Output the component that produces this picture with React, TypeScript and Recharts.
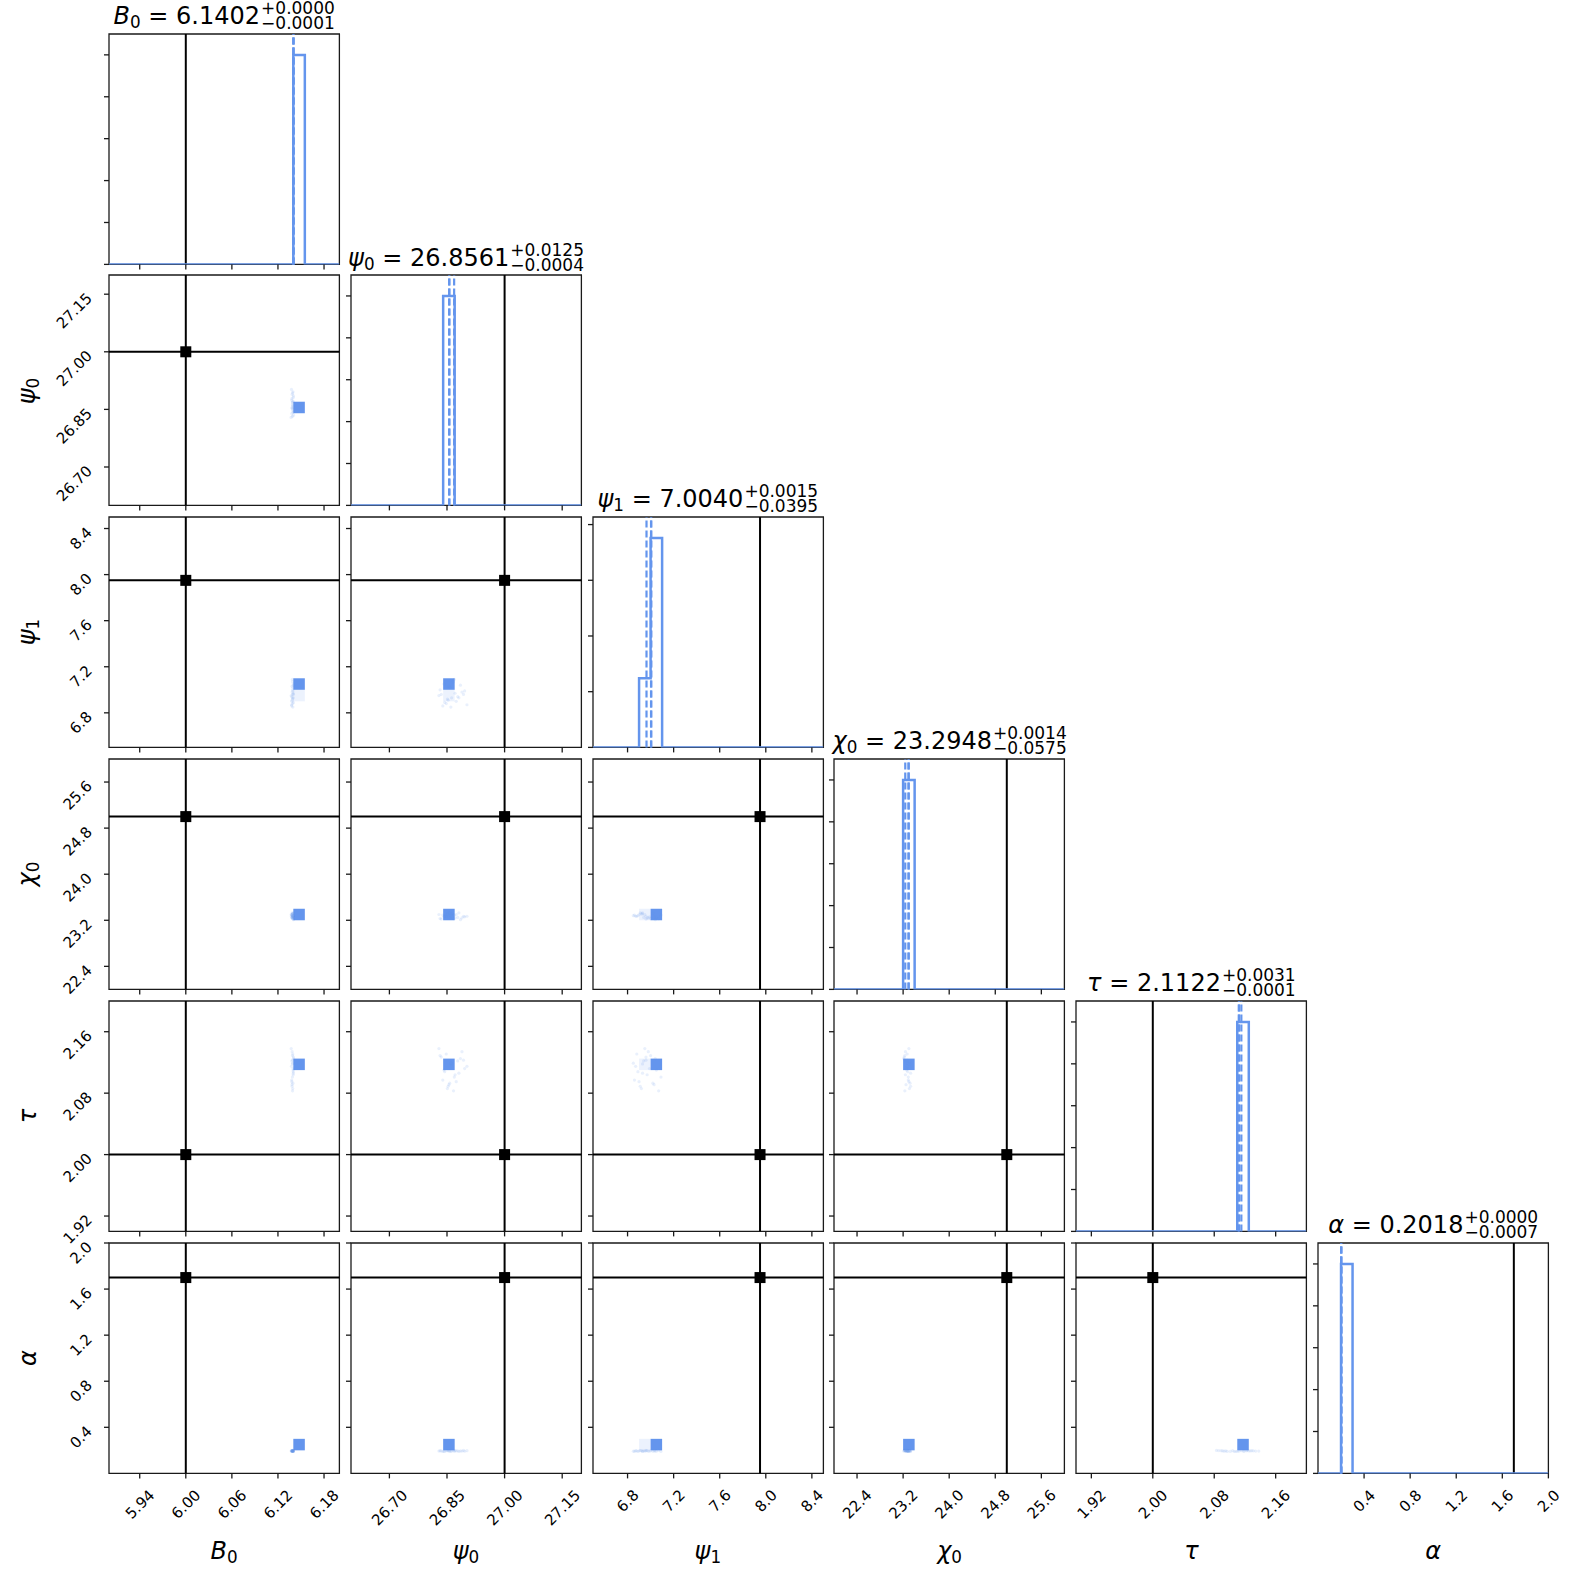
import React from 'react';
import { ComposedChart, XAxis, YAxis, Line, Scatter, ReferenceLine, ReferenceArea } from 'recharts';

const FONT = '"DejaVu Sans", Verdana, sans-serif';
const BLUE = '#6495ed';
const INK = '#1a1a1a';

// parameters: B0, psi0, psi1, chi0, tau, alpha
const symbols = ['B', 'ψ', 'ψ', 'χ', 'τ', 'α'];
const subscripts = ['0', '0', '1', '0', '', ''];
const ranges = [[5.9, 6.2], [26.6, 27.2], [6.5, 8.5], [22, 26], [1.9, 2.2], [0, 2]];
const axisTicks = [
  [5.94, 6.0, 6.06, 6.12, 6.18],
  [26.7, 26.85, 27.0, 27.15],
  [6.8, 7.2, 7.6, 8.0, 8.4],
  [22.4, 23.2, 24.0, 24.8, 25.6],
  [1.92, 2.0, 2.08, 2.16],
  [0.4, 0.8, 1.2, 1.6, 2.0],
];
const tickDecimals = [2, 2, 1, 1, 2, 1];
const truths = [6.0, 27.0, 7.95, 25.0, 2.0, 1.7];
const medians = [6.1402, 26.8561, 7.004, 23.2948, 2.1122, 0.2018];
const errUp = [0.0, 0.0125, 0.0015, 0.0014, 0.0031, 0.0];
const errDown = [0.0001, 0.0004, 0.0395, 0.0575, 0.0001, 0.0007];

// 1d histogram: non-empty bins (left edge, width, counts)
const binStarts = [[6.14], [26.84], [6.9, 7.0], [23.2], [2.11], [0.2]];
const binWidths = [0.015, 0.03, 0.1, 0.2, 0.015, 0.1];
const binCounts = [[4998], [5000], [1240, 3760], [5000], [5000], [5000]];
const countTicks = [0, 1000, 2000, 3000, 4000, 5000];

// a few stray samples (B0, psi0, psi1, chi0, tau, alpha) shown faintly
const tailSamples = [
  [6.1393, 26.848, 6.88, 23.27, 2.131, 0.196],
  [6.1387, 26.862, 6.93, 23.31, 2.118, 0.193],
  [6.1398, 26.871, 6.97, 23.24, 2.104, 0.198],
  [6.1379, 26.839, 6.86, 23.29, 2.097, 0.191],
  [6.1401, 26.885, 7.04, 23.21, 2.125, 0.195],
  [6.1384, 26.853, 6.91, 23.33, 2.089, 0.197],
  [6.1396, 26.896, 6.99, 23.26, 2.112, 0.192],
  [6.1372, 26.829, 6.95, 23.3, 2.138, 0.194],
  [6.139, 26.867, 7.07, 23.23, 2.083, 0.199],
  [6.1399, 26.844, 6.89, 23.28, 2.108, 0.19],
  [6.1381, 26.878, 6.94, 23.25, 2.122, 0.196],
  [6.1395, 26.857, 7.02, 23.32, 2.093, 0.193],
  [6.1376, 26.902, 6.87, 23.27, 2.115, 0.197],
  [6.1402, 26.835, 6.96, 23.22, 2.127, 0.195],
  [6.1388, 26.869, 7.09, 23.29, 2.101, 0.191],
  [6.1392, 26.851, 6.92, 23.31, 2.086, 0.198],
  [6.1385, 26.889, 6.98, 23.24, 2.134, 0.194],
  [6.1397, 26.842, 7.05, 23.26, 2.11, 0.192],
  [6.138, 26.874, 6.9, 23.3, 2.095, 0.196],
  [6.1394, 26.86, 6.85, 23.28, 2.119, 0.193],
  [6.1389, 26.832, 7.0, 23.23, 2.129, 0.197],
  [6.14, 26.881, 6.93, 23.33, 2.106, 0.19],
  [6.1383, 26.855, 7.03, 23.25, 2.091, 0.195],
  [6.1391, 26.893, 6.96, 23.27, 2.123, 0.199],
];

const N = symbols.length;
const SIZE = 230.4;
const PITCH = 241.8;
const X0 = 109;
const Y0 = 33.5;
const PAD_L = 72;
const PAD_B = 64;
const PAD_T = 6;
const PAD_R = 26;
const TICK_FS = 15;
const TITLE_FS = 24;

const charW: Record<string, number> = { '.': 0.318, '-': 0.838 };
const textLen = (s: string, fs: number) =>
  s.split('').reduce((a, ch) => a + (charW[ch] ?? 0.636), 0) * fs;

const makeXTick = (dec: number, show: boolean) => (p: any) => {
  if (!show) return <g />;
  const s = Number(p.payload.value).toFixed(dec);
  const cap = 0.729 * TICK_FS;
  const L = textLen(s, TICK_FS);
  const ax = p.x + 0.354 * cap;
  const ay = p.y + 10 + 0.707 * (L / 2 + cap);
  return (
    <text x={ax} y={ay} textAnchor="middle" transform={`rotate(-45 ${ax} ${ay})`}
      fontSize={TICK_FS} fontFamily={FONT} fill="#000">{s}</text>
  );
};

const makeYTick = (dec: number, show: boolean) => (p: any) => {
  if (!show) return <g />;
  const s = Number(p.payload.value).toFixed(dec);
  const ax = p.x - 11;
  const ay = p.y + 5;
  return (
    <text x={ax} y={ay} textAnchor="end" transform={`rotate(-45 ${ax} ${ay})`}
      fontSize={TICK_FS} fontFamily={FONT} fill="#000">{s}</text>
  );
};

const histLine = (k: number) => {
  const pts = [{ x: ranges[k][0], y: 0 }];
  binStarts[k].forEach((b, n) => pts.push({ x: b, y: binCounts[k][n] }));
  const last = binStarts[k][binStarts[k].length - 1] + binWidths[k];
  pts.push({ x: last, y: 0 }, { x: ranges[k][1], y: 0 });
  return pts;
};

const Sym = ({ k }: { k: number }) => (
  <>
    <span style={{ fontStyle: 'italic' }}>{symbols[k]}</span>
    {subscripts[k] ? (
      <span style={{ fontSize: '0.7em', position: 'relative', top: '0.25em' }}>{subscripts[k]}</span>
    ) : null}
  </>
);

const squareMarker = (p: any) => (
  <rect x={p.cx - 5.5} y={p.cy - 5.5} width={11} height={11} fill="#000" />
);
const faintDot = (p: any) => (
  <circle cx={p.cx} cy={p.cy} r={1.6} fill={BLUE} fillOpacity={0.14} />
);

function Panel({ r, c }: { r: number; c: number }) {
  const diag = r === c;
  const left = X0 + PITCH * c;
  const top = Y0 + PITCH * r;
  const xDom = ranges[c];
  const maxC = Math.max(...binCounts[c]);
  const maxR = Math.max(...binCounts[r]);
  const yDom = diag ? [0, maxC * 1.1] : ranges[r];
  const yTicks = diag ? countTicks.filter((t) => t <= maxC * 1.1) : axisTicks[r];

  const cells: { x1: number; x2: number; y1: number; y2: number; w: number }[] = [];
  if (!diag) {
    binStarts[c].forEach((bx, a) =>
      binStarts[r].forEach((by, b) => {
        cells.push({
          x1: bx,
          x2: bx + binWidths[c],
          y1: by,
          y2: by + binWidths[r],
          w: (binCounts[c][a] / maxC) * (binCounts[r][b] / maxR),
        });
      })
    );
  }
  const faint = tailSamples.map((s) => ({ x: s[c], y: s[r] }));
  const q = [medians[c] - errDown[c], medians[c], medians[c] + errUp[c]];

  return (
    <div style={{ position: 'absolute', left: left - PAD_L, top: top - PAD_T }}>
      <ComposedChart
        width={PAD_L + SIZE + PAD_R}
        height={PAD_T + SIZE + PAD_B}
        margin={{ top: PAD_T, right: PAD_R, bottom: PAD_B - 1, left: PAD_L - 1 }}
      >
        <XAxis type="number" dataKey="x" domain={xDom} ticks={axisTicks[c]} allowDataOverflow interval={0}
          height={1} tickSize={5} tickMargin={0} axisLine={false} stroke={INK}
          tickLine={{ stroke: INK, strokeWidth: 1.3 }} tick={makeXTick(tickDecimals[c], r === N - 1)} />
        <YAxis type="number" dataKey="y" domain={yDom} ticks={yTicks} allowDataOverflow interval={0}
          width={1} tickSize={5} tickMargin={0} axisLine={false} stroke={INK}
          tickLine={{ stroke: INK, strokeWidth: 1.3 }} tick={makeYTick(tickDecimals[r], !diag && c === 0)} />

        {cells.map((cell, n) => (
          <ReferenceArea key={`cell${n}`} x1={cell.x1} x2={cell.x2} y1={cell.y1} y2={cell.y2}
            fill={BLUE} fillOpacity={cell.w > 0.99 ? 1 : 0.12} stroke="none" />
        ))}
        {!diag && (
          <Scatter data={faint} dataKey="y" shape={faintDot} isAnimationActive={false} />
        )}

        <ReferenceLine x={truths[c]} stroke="#000" strokeWidth={2} />
        {!diag && <ReferenceLine y={truths[r]} stroke="#000" strokeWidth={2} />}
        {!diag && (
          <Scatter data={[{ x: truths[c], y: truths[r] }]} dataKey="y" shape={squareMarker}
            isAnimationActive={false} />
        )}

        {diag && (
          <Line data={histLine(c)} dataKey="y" type="stepAfter" stroke={BLUE} strokeWidth={2.5}
            dot={false} activeDot={false} isAnimationActive={false} />
        )}
        {diag &&
          q.map((v, n) => (
            <ReferenceLine key={`q${n}`} x={v} stroke={BLUE} strokeWidth={2.2} strokeDasharray="7 3" />
          ))}

        <ReferenceArea x1={xDom[0]} x2={xDom[1]} y1={yDom[0]} y2={yDom[1]}
          fill="none" stroke={INK} strokeWidth={1.3} />
      </ComposedChart>
    </div>
  );
}

function Title({ k }: { k: number }) {
  const cx = X0 + PITCH * k + SIZE / 2;
  const top = Y0 + PITCH * k;
  return (
    <div
      style={{
        position: 'absolute', left: cx, top: top - 32.8, transform: 'translateX(-50%)',
        whiteSpace: 'nowrap', fontFamily: FONT, fontSize: TITLE_FS, lineHeight: '24px', color: '#000',
      }}
    >
      <Sym k={k} />
      {' = '}
      {medians[k].toFixed(4)}
      <span style={{ display: 'inline-block', verticalAlign: '-5px', fontSize: 17, lineHeight: '15px', marginLeft: 1 }}>
        <span style={{ display: 'block' }}>+{errUp[k].toFixed(4)}</span>
        <span style={{ display: 'block' }}>−{errDown[k].toFixed(4)}</span>
      </span>
    </div>
  );
}

function XLabel({ k }: { k: number }) {
  const cx = X0 + PITCH * k + SIZE / 2;
  return (
    <div
      style={{
        position: 'absolute', left: cx, top: 1538.7, transform: 'translateX(-50%)', whiteSpace: 'nowrap',
        fontFamily: FONT, fontSize: TITLE_FS, lineHeight: '24px', color: '#000',
      }}
    >
      <Sym k={k} />
    </div>
  );
}

function YLabel({ k }: { k: number }) {
  const cy = Y0 + PITCH * k + SIZE / 2;
  return (
    <div
      style={{
        position: 'absolute', left: 28, top: cy, transform: 'translate(-50%, -50%) rotate(-90deg)',
        whiteSpace: 'nowrap', fontFamily: FONT, fontSize: TITLE_FS, lineHeight: '24px', color: '#000',
      }}
    >
      <Sym k={k} />
    </div>
  );
}

export default function App() {
  const panels: JSX.Element[] = [];
  for (let r = 0; r < N; r++) {
    for (let c = 0; c <= r; c++) {
      panels.push(<Panel key={`${r}-${c}`} r={r} c={c} />);
    }
  }
  return (
    <div style={{ position: 'absolute', left: 0, top: 0, width: 1569, height: 1572, background: '#fff', overflow: 'hidden' }}>
      {panels}
      {symbols.map((_, k) => (
        <Title key={`t${k}`} k={k} />
      ))}
      {symbols.map((_, k) => (
        <XLabel key={`x${k}`} k={k} />
      ))}
      {symbols.map((_, k) => (k > 0 ? <YLabel key={`y${k}`} k={k} /> : null))}
    </div>
  );
}
